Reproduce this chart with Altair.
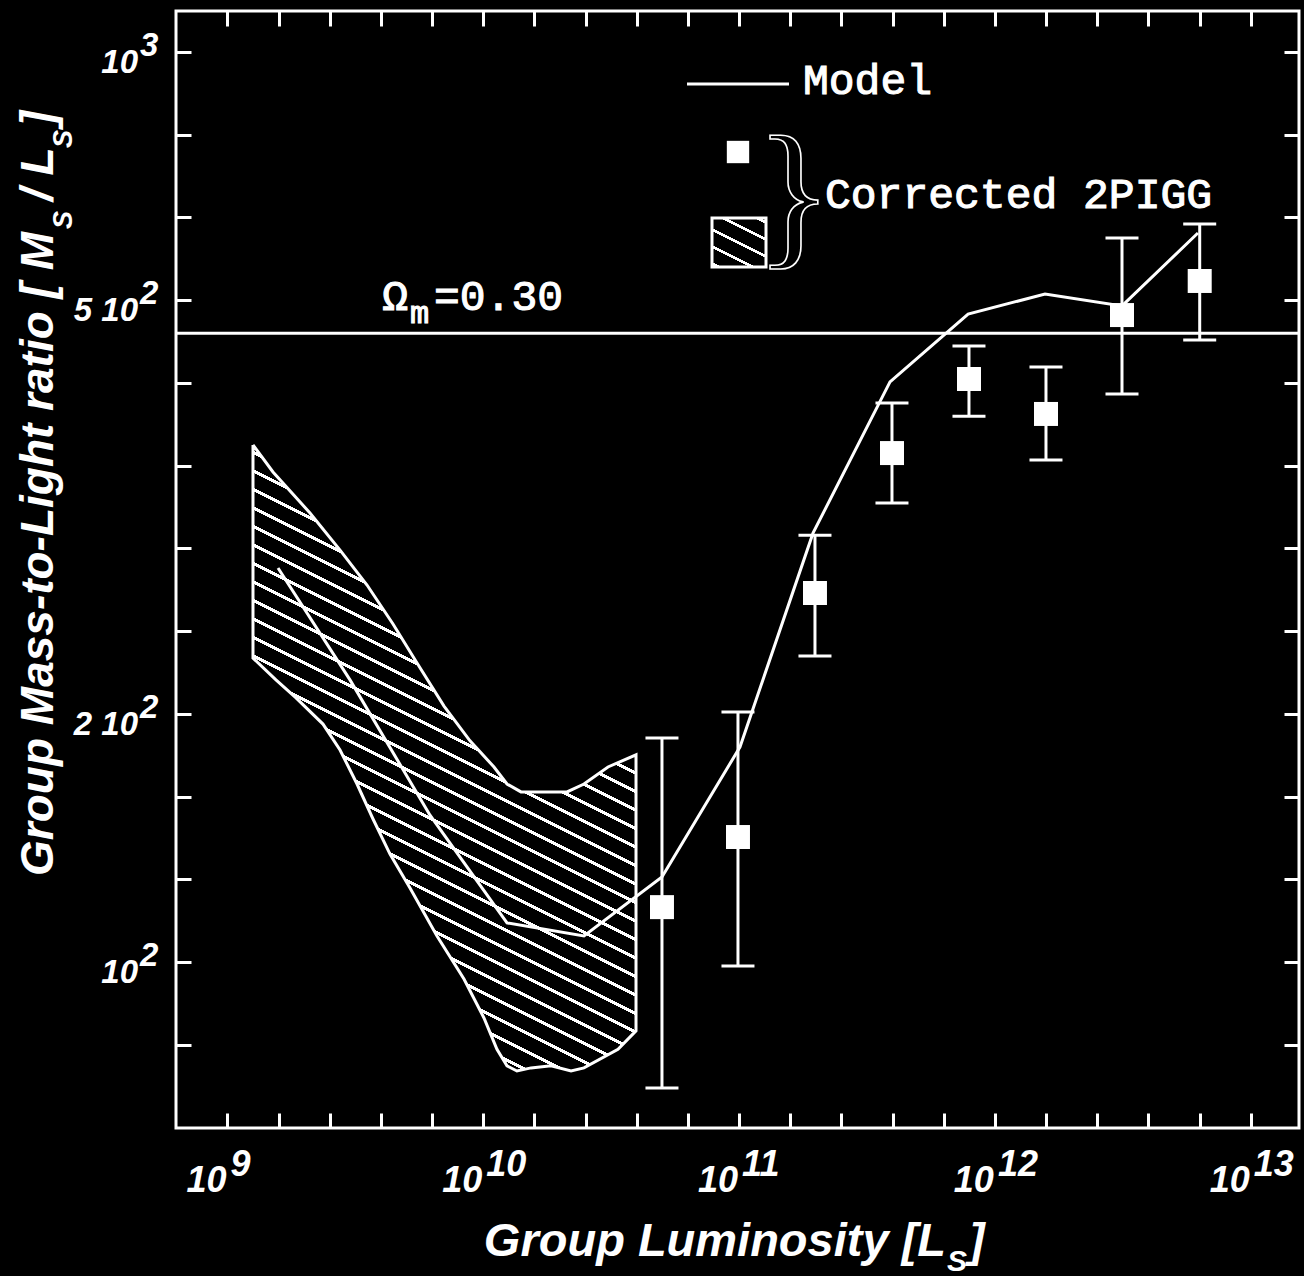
import altair as alt
import pandas as pd
import math

# ---------------- data ----------------
model_L = [1.576e9, 3.012e9, 6.19e9, 1.238e10, 2.475e10, 4.995e10, 1.008e11,
           1.945e11, 3.89e11, 7.857e11, 1.570e12, 3.141e12, 6.22e12]
model_ML = [271.0, 204.2, 145.0, 110.4, 106.8, 124.0, 172.3,
            296.0, 434.0, 515.3, 542.1, 526.0, 632.6]

obs_L = [4.995e10, 9.90e10, 1.98e11, 3.96e11, 7.92e11, 1.584e12, 3.14e12, 6.32e12]
obs_ML = [114.9, 137.2, 254.4, 362.5, 437.2, 400.2, 514.0, 560.3]
obs_hi = [176.3, 188.2, 294.5, 411.5, 475.3, 450.6, 624.6, 647.2]
obs_lo = [72.7, 99.0, 216.9, 319.4, 398.0, 356.1, 421.0, 482.6]

band_L = [1.258e9, 1.506e9, 2.101e9, 2.754e9, 3.511e9, 4.436e9, 5.507e9, 7.021e9,
          8.872e9, 1.101e10, 1.238e10, 1.404e10, 2.125e10, 2.475e10, 3.073e10, 3.954e10,
          3.954e10, 3.362e10, 2.475e10, 2.203e10, 1.840e10, 1.537e10, 1.354e10, 1.238e10,
          1.131e10, 1.006e10, 8.404e9, 6.592e9, 5.170e9, 4.318e9, 3.706e9, 3.209e9,
          2.754e9, 2.362e9, 1.853e9, 1.547e9, 1.258e9, 1.258e9]
band_ML = [370.0, 345.6, 311.5, 283.6, 259.6, 235.2, 213.1, 191.1,
           175.0, 163.8, 156.9, 153.8, 153.8, 156.9, 163.8, 168.9,
           84.0, 80.2, 76.5, 75.9, 76.9, 76.5, 75.9, 76.9,
           80.2, 86.8, 95.8, 106.8, 120.6, 131.4, 143.6, 156.9,
           171.0, 182.6, 195.1, 204.2, 215.8, 370.0]

omega_ML = [491.0]

x_label_vals = [1e9, 1e10, 1e11, 1e12, 1e13]
x_label_exps = ["9", "10", "11", "12", "13"]
y_label_vals = [1000.0, 533.7, 187.4, 100.0]
y_label_base = ["10", "5  10", "2  10", "10"]
y_label_exps = ["3", "2", "2", "2"]

# ---------------- layout ----------------
W, H = 1123, 1117
LOGX0, LOGX1 = 8.7987, 13.1889
LOGY0, LOGY1 = 1.8176, 3.0451
xs = alt.Scale(type="log", domain=[10 ** LOGX0, 10 ** LOGX1], nice=False)
ys = alt.Scale(type="log", domain=[10 ** LOGY0, 10 ** LOGY1], nice=False)
x_ticks = [10 ** (9 + 0.2 * j) for j in range(21)]
y_ticks = [10 ** (3 - k / 11) for k in range(13)]

SANS = "Liberation Sans"
MONO = "Liberation Mono"
LW = 3


def hatch(w, h, slope, spacing, lw, phase):
    hh = slope * w / h
    s = (1 + hh) / (1 + hh * hh)
    dt = 1.0 / (h * s * (1 + hh * hh))
    step = spacing * dt
    half = lw * math.sqrt(1 + slope ** 2) * dt / 2
    stops = [{"offset": 0, "color": "black"}]
    t = phase
    while t + half < 1:
        a = max(t - half, 0.0)
        b = t + half
        stops += [{"offset": a, "color": "black"}, {"offset": a, "color": "white"},
                  {"offset": b, "color": "white"}, {"offset": b, "color": "black"}]
        t += step
    stops.append({"offset": 1, "color": "black"})
    return {"gradient": "linear", "x1": 1, "y1": 0, "x2": 1 - s * hh, "y2": s, "stops": stops}


pxx = W / (LOGX1 - LOGX0)
pxy = H / (LOGY1 - LOGY0)
bw = (math.log10(max(band_L)) - math.log10(min(band_L))) * pxx
bh = (math.log10(max(band_ML)) - math.log10(min(band_ML))) * pxy

one = pd.DataFrame({"k": [0]})


def txt(text, x, y, size, font, align="left", baseline="alphabetic",
        style="normal", weight="normal", angle=0, dx=0, dy=0, **extra):
    props = dict(text=text, font=font, fontSize=size, align=align, baseline=baseline,
                 fontStyle=style, fontWeight=weight, angle=angle, dx=dx, dy=dy)
    props.update(extra)
    if "fill" not in props:
        props["fill"] = "white"
    return alt.Chart(one).mark_text(**props).encode(x=alt.value(x), y=alt.value(y))


obs = pd.DataFrame({"L": obs_L, "ML": obs_ML, "hi": obs_hi, "lo": obs_lo})
model = pd.DataFrame({"L": model_L, "ML": model_ML})
band = pd.DataFrame({"L": band_L, "ML": band_ML, "i": list(range(len(band_L)))})
omega = pd.DataFrame({"ML": omega_ML})
xlab = pd.DataFrame({"L": x_label_vals, "exp": x_label_exps})
ylab = pd.DataFrame({"ML": y_label_vals, "base": y_label_base, "exp": y_label_exps})

tick_style = dict(labels=False, domain=False, grid=False, tickSize=15, tickWidth=LW,
                  tickColor="white", offset=-15, title=None)

axes_a = alt.Chart(obs).mark_point(opacity=0).encode(
    x=alt.X("L:Q", scale=xs, axis=alt.Axis(orient="bottom", values=x_ticks, **tick_style)),
    y=alt.Y("ML:Q", scale=ys, axis=alt.Axis(orient="left", values=y_ticks, **tick_style)),
)
axes_b = alt.Chart(obs).mark_point(opacity=0).encode(
    x=alt.X("L:Q", scale=xs, axis=alt.Axis(orient="top", values=x_ticks, **tick_style)),
    y=alt.Y("ML:Q", scale=ys, axis=alt.Axis(orient="right", values=y_ticks, **tick_style)),
)

band_layer = alt.Chart(band).mark_line(
    stroke="white", strokeWidth=LW, fill=hatch(bw, bh, 0.5, 18.5, 3.0, 0.017)
).encode(
    x=alt.X("L:Q", scale=xs, axis=None),
    y=alt.Y("ML:Q", scale=ys, axis=None),
    order=alt.Order("i:Q"),
)

omega_layer = alt.Chart(omega).mark_rule(color="white", strokeWidth=LW).encode(
    y=alt.Y("ML:Q", scale=ys, axis=None)
)

model_layer = alt.Chart(model).mark_line(color="white", strokeWidth=LW).encode(
    x=alt.X("L:Q", scale=xs, axis=None),
    y=alt.Y("ML:Q", scale=ys, axis=None),
)

err_layer = alt.Chart(obs).mark_rule(color="white", strokeWidth=LW).encode(
    x=alt.X("L:Q", scale=xs, axis=None),
    y=alt.Y("lo:Q", scale=ys, axis=None),
    y2="hi:Q",
)
cap_hi = alt.Chart(obs).mark_tick(orient="horizontal", size=33, thickness=LW,
                                  color="white", opacity=1).encode(
    x=alt.X("L:Q", scale=xs, axis=None),
    y=alt.Y("hi:Q", scale=ys, axis=None),
)
cap_lo = alt.Chart(obs).mark_tick(orient="horizontal", size=33, thickness=LW,
                                  color="white", opacity=1).encode(
    x=alt.X("L:Q", scale=xs, axis=None),
    y=alt.Y("lo:Q", scale=ys, axis=None),
)
sq_layer = alt.Chart(obs).mark_square(size=576, color="white", opacity=1).encode(
    x=alt.X("L:Q", scale=xs, axis=None),
    y=alt.Y("ML:Q", scale=ys, axis=None),
)

# tick labels
xl_base = alt.Chart(xlab).mark_text(
    text="10", font=SANS, fontSize=36, fontStyle="italic", fontWeight="bold",
    align="right", baseline="alphabetic", dx=-1, color="white"
).encode(x=alt.X("L:Q", scale=xs, axis=None), y=alt.value(1181))
xl_exp = alt.Chart(xlab).mark_text(
    font=SANS, fontSize=36, fontStyle="italic", fontWeight="bold",
    align="left", baseline="alphabetic", dx=3, color="white"
).encode(x=alt.X("L:Q", scale=xs, axis=None), y=alt.value(1165), text="exp:N")

yl_base = alt.Chart(ylab).mark_text(
    font=SANS, fontSize=33, fontStyle="italic", fontWeight="bold",
    align="right", baseline="alphabetic", dy=21, color="white"
).encode(y=alt.Y("ML:Q", scale=ys, axis=None), x=alt.value(-38), text="base:N")
yl_exp = alt.Chart(ylab).mark_text(
    font=SANS, fontSize=33, fontStyle="italic", fontWeight="bold",
    align="left", baseline="alphabetic", dy=4, color="white"
).encode(y=alt.Y("ML:Q", scale=ys, axis=None), x=alt.value(-36), text="exp:N")

# axis titles
bi = dict(style="italic", weight="bold")
titles = [
    txt("Group Luminosity [L", 770, 1245, 47, SANS, align="right", **bi),
    txt("S", 771, 1260, 30, SANS, **bi),
    txt("]", 793, 1245, 47, SANS, **bi),
    txt("Group Mass-to-Light ratio [ M", -123, 221, 46, SANS, align="right", angle=270, **bi),
    txt("S", -123, 218, 27, SANS, angle=270, dy=19, **bi),
    txt("/ L", -123, 190, 46, SANS, angle=270, **bi),
    txt("S", -123, 137, 27, SANS, angle=270, dy=19, **bi),
    txt("]", -123, 115, 46, SANS, angle=270, **bi),
]

# annotations / legend
legend_line = alt.Chart(one).mark_rule(color="white", strokeWidth=LW).encode(
    x=alt.value(511), x2=alt.value(613), y=alt.value(73))
legend_sq = alt.Chart(one).mark_square(size=500, color="white", opacity=1).encode(
    x=alt.value(562), y=alt.value(141))
legend_box = alt.Chart(one).mark_rect(
    stroke="white", strokeWidth=LW, fill=hatch(54, 49, 0.5, 17, 3.0, 0.06)
).encode(x=alt.value(536), x2=alt.value(590), y=alt.value(207), y2=alt.value(256))

mono_stroke = dict(stroke="white", strokeWidth=1.1)
annots = [
    txt("Model", 627, 83, 43, MONO, **mono_stroke),
    txt("Corrected 2PIGG", 649, 197, 43, MONO, **mono_stroke),
    txt("}", 618, 188, 160, "Liberation Serif", align="center", baseline="middle",
        fill="black", stroke="white", strokeWidth=1.6),
    txt("\u03a9", 232, 299, 43, MONO, align="right", **mono_stroke),
    txt("m", 234, 312, 32, MONO, **mono_stroke),
    txt("=0.30", 258, 299, 43, MONO, **mono_stroke),
]

chart = alt.layer(
    axes_a, axes_b, band_layer, omega_layer, model_layer, err_layer, cap_hi, cap_lo,
    sq_layer, xl_base, xl_exp, yl_base, yl_exp, *titles,
    legend_line, legend_sq, legend_box, *annots
).resolve_axis(x="independent", y="independent").properties(
    width=W, height=H, background="black",
    padding={"left": 176, "top": 11, "right": 5, "bottom": 148},
    autosize=alt.AutoSizeParams(type="none"),
).configure_view(stroke="white", strokeWidth=LW)

chart.save("out.html", embed_options={"renderer": "svg", "actions": False})
